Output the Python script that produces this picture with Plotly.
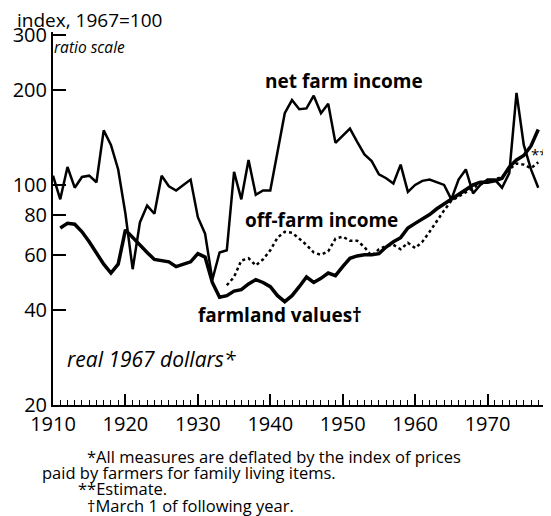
import plotly.graph_objects as go
import numpy as np
import logging

# Configure logging
logging.basicConfig(level=logging.INFO, format='%(asctime)s - %(levelname)s - %(message)s')

# Index values, 1967=100, in real 1967 dollars
net_farm_years = list(range(1910, 1978))
net_farm_income = [
    107, 90, 114, 98, 106, 107, 102, 149, 134, 112,   # 1910-1919
    81, 54, 76, 86, 81, 107, 99, 96, 100, 104,        # 1920-1929
    79, 70, 50, 61, 62, 110, 90, 120, 93, 96,         # 1930-1939
    96, 127, 169, 186, 174, 175, 192, 169, 181, 136,  # 1940-1949
    143, 151, 137, 125, 119, 108, 105, 101, 116, 95,  # 1950-1959
    100, 103, 104, 102, 100, 90, 104, 112, 94, 100,   # 1960-1969
    104, 104, 98, 109, 196, 134, 112, 98,             # 1970-1977
]

farmland_years = list(range(1911, 1978))
farmland_values = [
    73, 75.5, 75, 71, 66, 61, 56, 52.5, 56,              # 1911-1919
    72, 68, 64, 61, 58, 57.5, 57, 55, 56, 57,            # 1920-1929
    60.5, 59, 49, 44, 44.5, 46, 46.5, 48.5, 50, 49,      # 1930-1939
    47.5, 44.5, 42.6, 44.5, 47.5, 51, 49, 50.5, 52.5, 51.5,  # 1940-1949
    55, 58.5, 59.5, 60, 60, 60.5, 63.5, 66, 68, 73,      # 1950-1959
    75.5, 78, 80.5, 84, 87, 90, 93, 97, 100, 102,        # 1960-1969
    102, 103, 105, 114, 120, 124, 133, 150,              # 1970-1977
]

off_farm_years = list(range(1934, 1978))
off_farm_income = [
    48, 51, 57.5, 58.5, 55.5, 58,                          # 1934-1939
    62, 68, 71, 70.5, 67.5, 64.5, 61, 60, 61.5, 67.5,      # 1940-1949
    68.5, 66.5, 66.5, 63.5, 59.5, 62.5, 64, 64.5, 62.5, 65.5,  # 1950-1959
    63, 66, 71, 77, 83, 89, 92, 95, 98, 101,               # 1960-1969
    102, 104, 106, 112, 117, 116, 113, 118,                # 1970-1977
]

decades = list(range(1910, 1971, 10))
y_ticks = [20, 40, 60, 80, 100, 200, 300]

footnotes = [
    "*All measures are deflated by the index of prices",
    "paid by farmers for family living items.",
    "**Estimate.",
    "†March 1 of following year.",
]


def add_label(fig, text, x, y, size, xanchor="center", bold=False):
    """
    Places a text label in paper coordinates, anchored at its middle.

    Args:
        fig (go.Figure): The figure to write on.
        text (str): The label text.
        x (float): Paper x position.
        y (float): Paper y position.
        size (float): Font size in pixels.
        xanchor (str): Horizontal anchor of the text.
        bold (bool): Whether the text is bold.
    """
    font = dict(family="Open Sans", size=size, color="black")
    if bold:
        font["weight"] = "bold"
    fig.add_annotation(text=text, x=x, y=y, xref="paper", yref="paper",
                       xanchor=xanchor, yanchor="middle", showarrow=False, font=font)


def generate_chart():
    """
    Builds the ratio-scale chart of net farm income, off-farm income and farmland values.

    Returns:
        plotly.graph_objects.Figure: The Plotly figure with the plot.
    """
    logging.info("Building farm income chart")
    fig = go.Figure()

    # Net farm income, thin solid line
    fig.add_trace(go.Scatter(
        x=net_farm_years,
        y=net_farm_income,
        mode='lines',
        name='net farm income',
        line=dict(color='black', width=2.5)
    ))

    # Off-farm income, dotted line
    fig.add_trace(go.Scatter(
        x=off_farm_years,
        y=off_farm_income,
        mode='lines',
        name='off-farm income',
        line=dict(color='black', width=2.5, dash='3px,3px')
    ))

    # Farmland values, heavy line
    fig.add_trace(go.Scatter(
        x=farmland_years,
        y=farmland_values,
        mode='lines',
        name='farmland values',
        line=dict(color='black', width=3.5)
    ))

    # Labels inside the plot
    add_label(fig, "net farm income", 0.591, 0.869, 19, bold=True)
    add_label(fig, "off-farm income", 0.545, 0.496, 19, bold=True)
    add_label(fig, "farmland values†", 0.461, 0.241, 19, bold=True)
    add_label(fig, "**", 1.008, 0.672, 15, xanchor="right")
    add_label(fig, "<i>real 1967 dollars*</i>", 0.200, 0.123, 21)
    add_label(fig, "<i>ratio scale</i>", -0.002, 0.961, 15.5, xanchor="left")
    add_label(fig, "index, 1967=100", -0.078, 1.033, 19, xanchor="left")

    # Footnotes below the axis
    note_x = [0.064, -0.026, 0.046, 0.064]
    note_y = [-0.138, -0.182, -0.223, -0.270]
    for text, nx, ny in zip(footnotes, note_x, note_y):
        add_label(fig, text, nx, ny, 16.5, xanchor="left")

    # Update layout for aesthetics (page body adds 8px at top and left)
    fig.update_layout(
        template='plotly_white',
        plot_bgcolor='white',
        paper_bgcolor='white',
        font=dict(family="Open Sans", color="black"),
        showlegend=False,
        width=543,
        height=508,
        margin=dict(l=39, r=5, t=24, b=111),
        xaxis=dict(
            range=[1910, 1978.07],
            tickvals=decades,
            ticks='inside', ticklen=11, tickwidth=1.5, tickcolor='black',
            minor=dict(tick0=1910, dtick=1, ticks='inside', ticklen=5, tickwidth=1,
                       tickcolor='black', showgrid=False),
            showline=True, linecolor='black', linewidth=2,
            showgrid=False, zeroline=False,
            tickfont=dict(size=20),
        ),
        yaxis=dict(
            type='log',
            range=[np.log10(20), np.log10(306)],
            tickvals=y_ticks,
            ticktext=[str(v) for v in y_ticks],
            ticks='inside', ticklen=13, tickwidth=2, tickcolor='black',
            showline=True, linecolor='black', linewidth=2,
            showgrid=False, zeroline=False,
            tickfont=dict(size=20),
        ),
    )

    return fig


fig = generate_chart()
fig.write_html("out.html")
